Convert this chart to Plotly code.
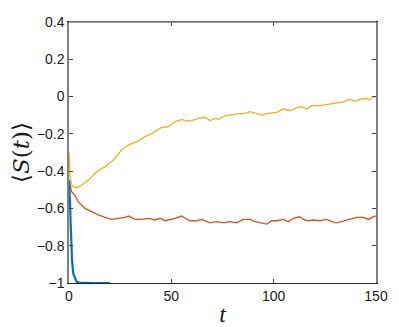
import plotly.graph_objects as go

# values
t_yellow = [0, 0.3, 0.6, 1.6, 3.7, 6.2, 9.5, 13.5, 17.6, 21.7, 25.7, 29, 33.1, 37.1,
            41.2, 45.3, 48.5, 51.8, 55.1, 57.5, 60, 63.2, 66.5, 68.9, 71.4, 73, 76.2,
            81.1, 86, 88.5, 90.9, 94.2, 97.4, 101.5, 104.7, 108, 110.5, 113.7, 116.2,
            118.6, 122.7, 126.7, 130.8, 134, 137, 139.8, 143.1, 145.5, 146.8, 148.7, 150]
s_yellow = [-0.30, -0.38, -0.44, -0.48, -0.49, -0.474, -0.448, -0.403, -0.376, -0.34,
            -0.287, -0.26, -0.242, -0.215, -0.194, -0.165, -0.162, -0.135, -0.122,
            -0.131, -0.129, -0.117, -0.111, -0.129, -0.117, -0.122, -0.104, -0.094,
            -0.09, -0.081, -0.09, -0.099, -0.09, -0.085, -0.067, -0.076, -0.063, -0.054,
            -0.067, -0.049, -0.049, -0.042, -0.036, -0.028, -0.015, -0.024, -0.013,
            -0.009, -0.018, 0.0, 0.0]

t_orange = [0, 0.5, 1.3, 2.9, 4.5, 7.8, 11.1, 14.3, 17.6, 20.9, 24.1, 27.4, 29, 32.3,
            35.5, 38.8, 42, 44.5, 46.9, 50.2, 51.8, 55.1, 56.7, 59.1, 62.4, 64.9, 66.5,
            68.9, 72.2, 75.4, 78.7, 82, 85.2, 88.5, 90.9, 94.2, 96.6, 99.1, 101.5,
            104.7, 107.2, 109.6, 112.6, 114.5, 117, 119.4, 122.7, 126, 128.4, 130.8,
            134.1, 137.3, 140.6, 143.8, 146.3, 148.7, 150]
s_orange = [-0.45, -0.48, -0.51, -0.53, -0.564, -0.60, -0.618, -0.635, -0.648, -0.659,
            -0.653, -0.648, -0.641, -0.659, -0.659, -0.653, -0.662, -0.653, -0.666,
            -0.659, -0.653, -0.641, -0.653, -0.666, -0.666, -0.659, -0.666, -0.677,
            -0.671, -0.677, -0.671, -0.677, -0.659, -0.659, -0.671, -0.677, -0.684,
            -0.666, -0.666, -0.659, -0.671, -0.653, -0.645, -0.659, -0.666, -0.662,
            -0.666, -0.659, -0.671, -0.677, -0.666, -0.659, -0.648, -0.648, -0.659,
            -0.645, -0.64]

t_blue = [0, 0.3, 0.5, 0.8, 1, 1.5, 2.1, 3, 3.7, 5, 8, 12, 16, 20]
s_blue = [-0.45, -0.5, -0.56, -0.68, -0.79, -0.88, -0.95, -0.98, -0.993, -0.998,
          -1, -1, -1, -1]

x_ticks = [0, 50, 100, 150]
y_ticks = [0.4, 0.2, 0, -0.2, -0.4, -0.6, -0.8, -1]
y_labels = ["0.4", "0.2", "0", "\u22120.2", "\u22120.4", "\u22120.6", "\u22120.8", "\u22121"]

fig = go.Figure()
fig.add_trace(go.Scatter(x=t_yellow, y=s_yellow, mode="lines",
                         line=dict(color="#EDB120", width=1.3)))
fig.add_trace(go.Scatter(x=t_orange, y=s_orange, mode="lines",
                         line=dict(color="#D95319", width=1.3)))
fig.add_trace(go.Scatter(x=t_blue, y=s_blue, mode="lines",
                         line=dict(color="#0072BD", width=2.2)))

# the page body adds 8px around the figure, so the figure is 8px smaller
fig.update_layout(
    width=391, height=319,
    margin=dict(l=61, r=23, t=14, b=44),
    plot_bgcolor="white", paper_bgcolor="white",
    showlegend=False,
    font=dict(family="Liberation Sans, Arial, sans-serif", size=14, color="#1a1a1a"),
    # gray top edge of the box
    shapes=[dict(type="line", xref="paper", yref="paper", x0=0, x1=1, y0=1, y1=1,
                 line=dict(color="#808080", width=1.5), layer="above")],
)
fig.update_xaxes(
    range=[0, 150], tickvals=x_ticks, ticks="inside", ticklen=4,
    showline=True, linecolor="#262626", linewidth=1, mirror="ticks",
    showgrid=False, zeroline=False, automargin=False,
    title=dict(text="<i>t</i>", standoff=12,
               font=dict(family="Liberation Serif, DejaVu Serif, serif", size=24)),
)
fig.update_yaxes(
    range=[-1, 0.4], tickvals=y_ticks, ticktext=y_labels, ticks="inside", ticklen=4,
    showline=True, linecolor="#808080", linewidth=1.5, mirror="ticks",
    showgrid=False, zeroline=False, automargin=False,
    title=dict(text="\u27e8<i>S</i>(<i>t</i>)\u27e9", standoff=2,
               font=dict(family="DejaVu Serif, Liberation Serif, serif", size=23)),
)

fig.write_html("out.html")
